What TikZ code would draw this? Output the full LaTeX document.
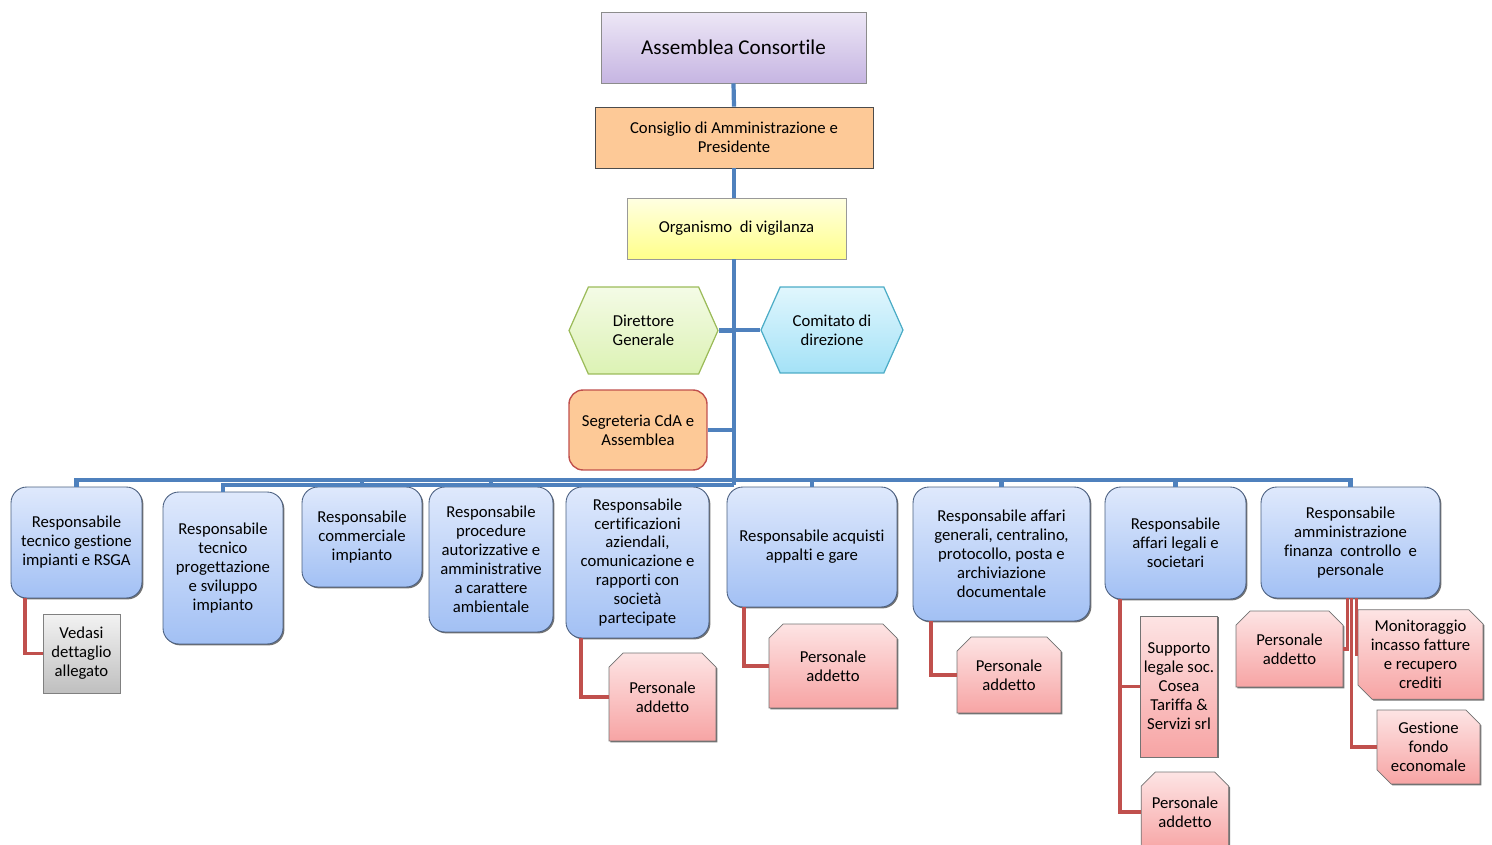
\documentclass[tikz,border=0pt]{standalone}
\usepackage{fontspec}
\setmainfont{Carlito}[Ligatures=NoCommon]
\usetikzlibrary{shapes.misc,shapes.symbols,shadows}

\definecolor{lineblue}{HTML}{4F81BD}
\definecolor{linered}{HTML}{C0504D}
\definecolor{respTop}{HTML}{DFE9FC}
\definecolor{respBot}{HTML}{A2C0F4}
\definecolor{respEdge}{HTML}{4A5F80}
\definecolor{persTop}{HTML}{FDE4E4}
\definecolor{persBot}{HTML}{F7A4A4}
\definecolor{lilaTop}{HTML}{EDE7F6}
\definecolor{lilaBot}{HTML}{C6B5E2}
\definecolor{orangeFill}{HTML}{FDC997}
\definecolor{yelTop}{HTML}{FFFFE2}
\definecolor{yelBot}{HTML}{FFFF8A}
\definecolor{greenTop}{HTML}{F4FBE6}
\definecolor{greenBot}{HTML}{DCF2B4}
\definecolor{greenEdge}{HTML}{9BBB59}
\definecolor{cyanTop}{HTML}{E0F6FD}
\definecolor{cyanBot}{HTML}{A4E2F7}
\definecolor{cyanEdge}{HTML}{4BACC6}

\begin{document}
\begin{tikzpicture}[x=0.02cm, y=-0.02cm,
  every node/.style={font=\fontsize{9.5}{10.8}\selectfont, align=center, inner sep=2pt, text=black},
  trunk/.style={draw=lineblue, line width=2.4pt},
  sub/.style={draw=linered, line width=2.2pt},
  softshadow/.style={drop shadow={shadow xshift=0.8pt, shadow yshift=-0.8pt, opacity=0.55, fill=black}},
  resp/.style={rectangle, rounded corners=9pt, draw=respEdge, line width=0.5pt, top color=respTop, bottom color=respBot, softshadow},
  pers/.style={chamfered rectangle, chamfered rectangle xsep=4pt, chamfered rectangle ysep=4pt, draw=black!55, line width=0.4pt, top color=persTop, bottom color=persBot, softshadow},
  topcut/.style={pers, chamfered rectangle corners={north west,north east}},
  diagcut/.style={pers, chamfered rectangle corners={north east,south west}},
  hexa/.style={signal, signal to=east and west, signal pointer angle=132, line width=0.7pt},
  ]
  \useasboundingbox (0,0) rectangle (1492,845);

  % top of the chart
  \node[rectangle, draw=black!45, top color=lilaTop, bottom color=lilaBot, softshadow, minimum width=5.3cm, minimum height=1.42cm, font=\fontsize{12}{14}\selectfont] (asm) at (733.5,47.5) {Assemblea Consortile};
  \node[rectangle, draw=black!70, fill=orangeFill, softshadow, minimum width=5.56cm, minimum height=1.22cm] (cda) at (734,137.5) {Consiglio di Amministrazione e\\Presidente};
  \node[rectangle, draw=black!40, top color=yelTop, bottom color=yelBot, softshadow, minimum width=4.38cm, minimum height=1.22cm] (odv) at (736.5,228.5) {Organismo\ \ di vigilanza};

  % staff of the direction
  \node[hexa, draw=greenEdge, top color=greenTop, bottom color=greenBot, minimum width=2.98cm, minimum height=1.74cm] (dg) at (643.5,330.5) {Direttore\\Generale};
  \node[hexa, draw=cyanEdge, top color=cyanTop, bottom color=cyanBot, minimum width=2.84cm, minimum height=1.72cm] (cd) at (832,330) {Comitato di\\direzione};
  \node[rectangle, rounded corners=8pt, draw=linered, line width=0.8pt, fill=orangeFill, minimum width=2.76cm, minimum height=1.6cm] (seg) at (638,430) {Segreteria CdA e\\Assemblea};

  \coordinate (bus) at (734,480);
  \coordinate (bus2) at (734,485);

  % responsabili
  \node[resp, minimum width=2.62cm, minimum height=2.22cm] (r1) at (76.5,542.5) {Responsabile\\tecnico gestione\\impianti e RSGA};
  \node[resp, minimum width=2.4cm, minimum height=3.04cm] (r2) at (223,568) {Responsabile\\tecnico\\progettazione\\e sviluppo\\impianto};
  \node[resp, minimum width=2.4cm, minimum height=2.0cm] (r3) at (362,537) {Responsabile\\commerciale\\impianto};
  \node[resp, minimum width=2.48cm, minimum height=2.9cm] (r4) at (491,559.5) {Responsabile\\procedure\\autorizzative e\\amministrative\\a carattere\\ambientale};
  \node[resp, minimum width=2.86cm, minimum height=3.02cm] (r5) at (637.5,562.5) {Responsabile\\certificazioni\\aziendali,\\comunicazione e\\rapporti con\\società\\partecipate};
  \node[resp, minimum width=3.4cm, minimum height=2.4cm] (r6) at (812,547) {Responsabile acquisti\\appalti e gare};
  \node[resp, minimum width=3.54cm, minimum height=2.68cm] (r7) at (1001.5,554) {Responsabile affari\\generali, centralino,\\protocollo, posta e\\archiviazione\\documentale};
  \node[resp, minimum width=2.82cm, minimum height=2.24cm] (r8) at (1175.5,543) {Responsabile\\affari legali e\\societari};
  \node[resp, minimum width=3.58cm, minimum height=2.22cm] (r9) at (1350.5,542.5) {Responsabile\\amministrazione\\finanza\ \ controllo\ \ e\\personale};

  % personale e uffici
  \node[rectangle, draw=black!50, top color=black!5, bottom color=black!25, softshadow, minimum width=1.54cm, minimum height=1.58cm] (ved) at (81.5,653.5) {Vedasi\\dettaglio\\allegato};
  \node[topcut, minimum width=2.14cm, minimum height=1.76cm] (p5) at (662.5,697) {Personale\\addetto};
  \node[topcut, minimum width=2.56cm, minimum height=1.68cm] (p6) at (833,666) {Personale\\addetto};
  \node[topcut, minimum width=2.08cm, minimum height=1.52cm] (p7) at (1009,675) {Personale\\addetto};
  \node[rectangle, draw=black!55, line width=0.4pt, top color=persTop, bottom color=persBot, softshadow, minimum width=1.48cm, minimum height=2.82cm] (sup) at (1179,686.5) {Supporto\\legale soc.\\Cosea\\Tariffa \&\\Servizi srl};
  \node[topcut, minimum width=1.72cm, minimum height=1.6cm] (p8) at (1185,812) {Personale\\addetto};
  \node[topcut, minimum width=2.14cm, minimum height=1.52cm] (p9) at (1289.5,649) {Personale\\addetto};
  \node[diagcut, minimum width=2.5cm, minimum height=1.58cm] (mon) at (1420.5,654.5) {Monitoraggio\\incasso fatture\\e recupero\\crediti};
  \node[diagcut, minimum width=2.06cm, minimum height=1.48cm] (gfe) at (1428.5,747) {Gestione\\fondo\\economale};

  % blue links
  \draw[trunk] (asm.south) -- (cda.north);
  \draw[trunk] (cda.south) -- (cda.south |- odv.north);
  \draw[trunk] (cda.south |- odv.south) -- (bus2);
  \draw[trunk] (dg.east) -- (dg.east -| bus);
  \draw[trunk] (cd.west) -- (cd.west -| bus);
  \draw[trunk] (seg.east) -- (seg.east -| bus);
  \draw[trunk] (bus) -| (r1.north);
  \draw[trunk] (bus2) -| (r2.north);
  \draw[trunk] (bus) -| (r3.north);
  \draw[trunk] (bus) -| (r4.north);
  \draw[trunk] (bus2) -| (r5.north);
  \draw[trunk] (bus) -| (r6.north);
  \draw[trunk] (bus) -| (r7.north);
  \draw[trunk] (bus) -| (r8.north);
  \draw[trunk] (bus) -| (r9.north);

  % red links
  \draw[sub] ([xshift=0.28cm]r1.south west) |- (ved.west);
  \draw[sub] ([xshift=0.3cm]r5.south west) |- (p5.west);
  \draw[sub] ([xshift=0.34cm]r6.south west) |- (p6.west);
  \draw[sub] ([xshift=0.36cm]r7.south west) |- (p7.west);
  \draw[sub] ([xshift=0.3cm]r8.south west) |- (sup.west);
  \draw[sub] ([xshift=0.3cm]r8.south west) |- (p8.west);
  \draw[sub] ([xshift=-0.06cm]r9.south) |- (p9.east);
  \draw[sub] ([xshift=0.12cm]r9.south) |- (mon.west);
  \draw[sub] ([xshift=0.02cm]r9.south) |- (gfe.west);
\end{tikzpicture}
\end{document}
